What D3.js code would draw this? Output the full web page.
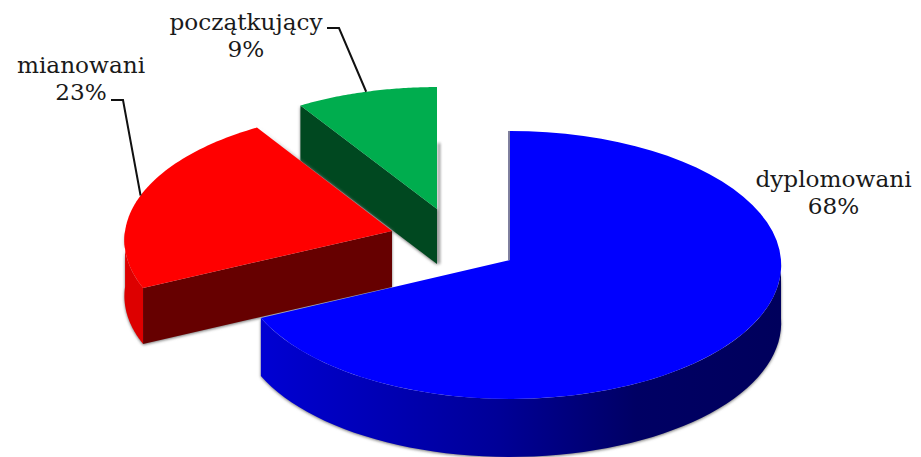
<!DOCTYPE html>
<html>
<head>
<meta charset="utf-8">
<script src="https://cdn.jsdelivr.net/npm/d3@7"></script>
<style>
	html,body {margin:0;padding:0;background:#fff;}
	text {font-family:"DejaVu Serif",serif;font-size:23.2px;fill:#1a1a1a;text-anchor:middle;}
</style>
</head>
<body>
<div id="root"></div>
<script>
// Chart values
const categories = ['dyplomowani','mianowani','początkujący'];
const values = [68,23,9];
const labels = ['68%','23%','9%'];

// Define width and height
let width = 921,height = 457;

// Where each exploded slice sits and how it looks, in draw order green -> red -> blue
const look = {
	'dyplomowani':{cx:510,cy:260,sx:1,sy:1,tilt:0.037,depth:58,top:'#0000ff',face:'#0000cc',rim:'url(#blueRim)',textX:833.5,textY:187},
	'mianowani':{cx:392,cy:231,sx:0.985,sy:0.97,tilt:0.07,depth:56,top:'#ff0000',face:'#660000',rim:'#dd0000',textX:81,textY:73,elbow:[[111,100],[123,100]]},
	'początkujący':{cx:437,cy:209,sx:0.97,sy:0.945,tilt:0.037,depth:55,top:'#00ad4e',face:'#004820',rim:'#004820',textX:246,textY:30,elbow:[[327,28],[339,28]]}
};

const rx = 271,ry = 133.8;

var svg = d3.select('#root')
	.append('svg')
	.attr('width',width)
	.attr('height',height)
	.style('display','block');

var defs = svg.append('defs');

// Rim gradient of the big slice
var grad = defs.append('linearGradient')
	.attr('id','blueRim')
	.attr('gradientUnits','userSpaceOnUse')
	.attr('x1',263).attr('x2',781).attr('y1',0).attr('y2',0);
grad.append('stop').attr('offset','0%').attr('stop-color','#0000d2');
grad.append('stop').attr('offset','45%').attr('stop-color','#000098');
grad.append('stop').attr('offset','72%').attr('stop-color','#000064');
grad.append('stop').attr('offset','100%').attr('stop-color','#00005c');

var blur = defs.append('filter')
	.attr('id','soft')
	.attr('x','-10%').attr('y','-10%').attr('width','120%').attr('height','120%');
blur.append('feGaussianBlur').attr('stdDeviation',1.4);

// Angles come from the pie layout, clockwise from 12 o'clock
var pie = d3.pie().sort(null).value(d => d)(values);
var slices = pie.map((p,i) => Object.assign({name:categories[i],label:labels[i]},look[categories[i]],{a0:p.startAngle,a1:p.endAngle}));

// Tilted disc projection, the back of the pie is flatter than the front
function project(s,a,drop) {
	let X = Math.sin(a),Z = Math.cos(a),w = 1 + s.tilt * Z;
	return [s.cx + rx * s.sx * X / w,s.cy - ry * s.sy * Z / w + (drop || 0)];
}
var line = d3.line();
var arcPoints = (s,a0,a1,drop) => d3.range(0,61).map(i => project(s,a0 + (a1 - a0) * i / 60,drop));
var apex = (s,drop) => [s.cx,s.cy + (drop || 0)];
var shift = (pts,dx) => pts.map(p => [p[0] + dx,p[1]]);

function drawSlice(s) {
	var g = svg.append('g');
	var shadow = g.append('g').attr('filter','url(#soft)').attr('fill','#777');
	var d = s.depth;

	// Front facing part of the rim, only between 90 and 270 degrees
	var r0 = Math.max(s.a0,Math.PI / 2),r1 = Math.min(s.a1,Math.PI * 1.5);
	var rim = r1 > r0 ? arcPoints(s,r0,r1,0).concat(arcPoints(s,r1,r0,d)) : null;
	// Cut face that looks towards the viewer
	var faceAngle = s.a0 > Math.PI ? s.a0 : null;
	var face = faceAngle !== null ? [apex(s),project(s,faceAngle),project(s,faceAngle,d),apex(s,d)] : null;

	// Soft shadow under the lower edges
	if (rim) shadow.append('path').attr('d',line(shift(rim,0).map(p => [p[0],p[1] + 1])) + 'Z');
	if (face) shadow.append('path').attr('d',line(face.map(p => [p[0],p[1] + 1])) + 'Z');
	if (s.name == 'dyplomowani') {
		shadow.append('path').attr('d',line(shift([project(s,0,d),apex(s,d),apex(s),project(s,0,d)],-2)) + 'Z');
	}
	if (s.name == 'mianowani') {
		let e = project(s,s.a1);
		shadow.append('path').attr('d',line([[e[0] + 2,e[1] + 1],[s.cx + 2,s.cy + 1],[s.cx - 4,s.cy + 1]]) + 'Z');
	}
	if (s.name == 'początkujący') {
		shadow.append('path').attr('d',line(shift([project(s,0,d + 1),apex(s,d),apex(s,d - 4)],2)) + 'Z')
			.attr('stroke','#777').attr('stroke-width',2);
	}

	if (rim) g.append('path').attr('d',line(rim) + 'Z').attr('fill',s.rim);
	if (face) g.append('path').attr('d',line(face) + 'Z').attr('fill',s.name == 'dyplomowani' ? 'none' : s.face);
	if (s.name == 'dyplomowani') {
		g.append('path')
			.attr('d',line([[s.cx - 1,project(s,0)[1]],[s.cx - 1,s.cy]]))
			.attr('stroke','#00003c').attr('stroke-width',1);
	}

	// Top surface
	g.append('path')
		.attr('d',line([apex(s)].concat(arcPoints(s,s.a0,s.a1,0))) + 'Z')
		.attr('fill',s.top);
}

// Paint the slices back to front
slices.slice().reverse().forEach(drawSlice);

// Leader lines end on the middle of the slice's outer edge
slices.filter(s => s.elbow).forEach(s => {
	svg.append('path')
		.attr('d',line(s.elbow.concat([project(s,(s.a0 + s.a1) / 2)])))
		.attr('fill','none')
		.attr('stroke','#111')
		.attr('stroke-width',2);
});

// Two line labels
var lab = svg.selectAll('g.lab')
	.data(slices)
	.enter()
	.append('g')
	.attr('class','lab');
lab.append('text').attr('x',d => d.textX).attr('y',d => d.textY).text(d => d.name);
lab.append('text').attr('x',d => d.textX).attr('y',d => d.textY + 27).text(d => d.label);
</script>
</body>
</html>
